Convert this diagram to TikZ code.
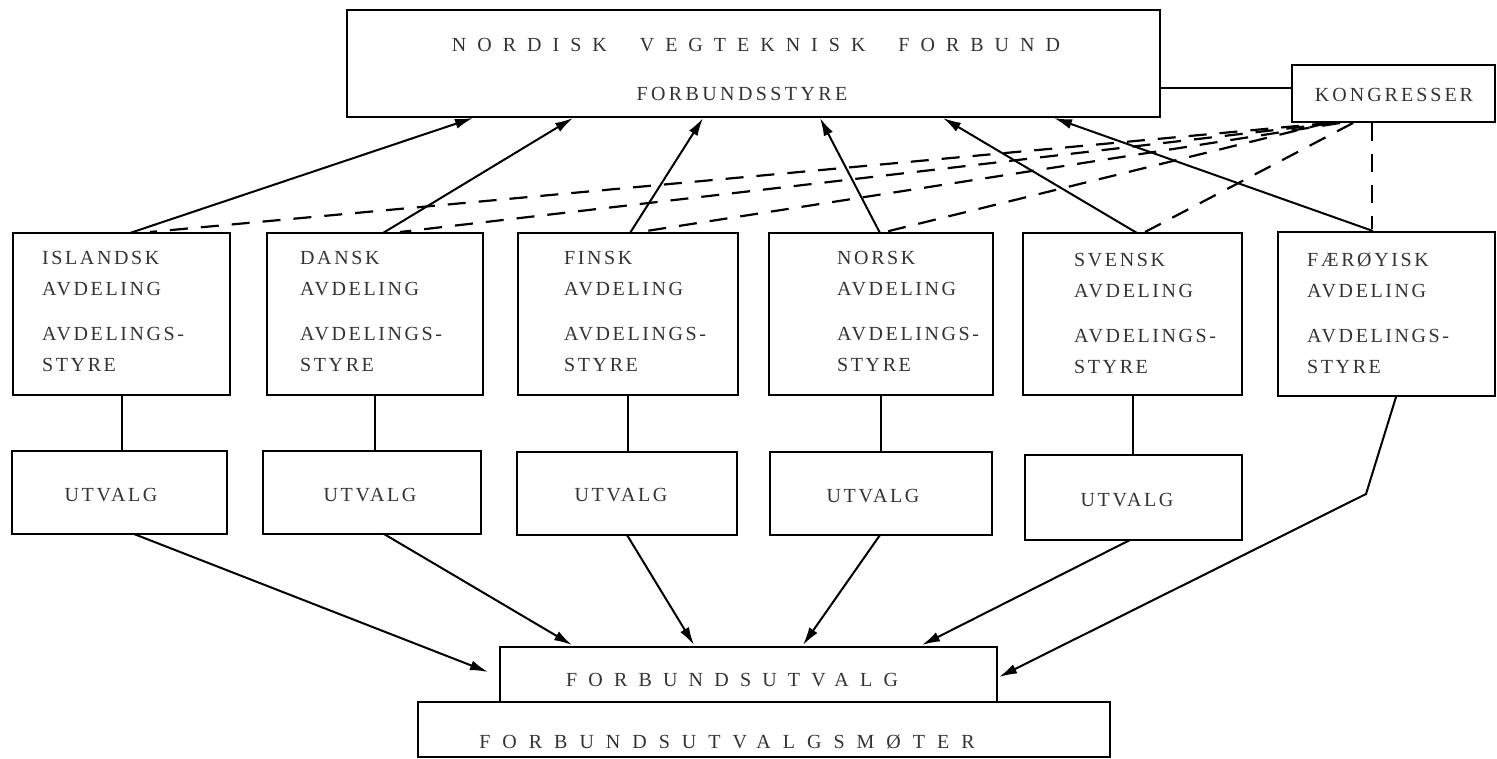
\documentclass[tikz,border=0pt]{standalone}
\usepackage{fontspec}
\setmainfont{Liberation Serif}
\usetikzlibrary{arrows.meta}
\newfontfamily\lsA[LetterSpace=13]{Liberation Serif}
\newfontfamily\lsT[LetterSpace=55]{Liberation Serif}
\newfontfamily\lsB[LetterSpace=56]{Liberation Serif}
\newfontfamily\lsM[LetterSpace=60]{Liberation Serif}
\newfontfamily\lsK[LetterSpace=15]{Liberation Serif}
\newfontfamily\lsS[LetterSpace=17]{Liberation Serif}
\tikzset{
  box/.style={draw=black, line width=2.5pt, inner sep=0pt},
  lbl/.style={inner sep=0pt, text=black!80},
  avd/.style={lbl, anchor=north west, align=left, font=\lsA\fontsize{20}{31}\selectfont},
  utv/.style={lbl, font=\lsA\fontsize{20}{24}\selectfont},
  conn/.style={line width=2pt, -{Latex[length=18pt,width=10pt]}},
  plain/.style={line width=2pt},
  dsh/.style={line width=2.2pt, dash pattern=on 18pt off 13pt},
}
\begin{document}
\begin{tikzpicture}[x=1pt, y=-1pt]
\useasboundingbox (0,0) rectangle (1497,759);
% main boxes
\node[box, minimum width=813pt, minimum height=107pt] (top) at (753.5,63.5) {};
\node[box, minimum width=203pt, minimum height=57pt] (kon) at (1393.5,93.5) {};
\node[lbl, font=\lsT\fontsize{20}{24}\selectfont] (ttl) at (756,45) {NORDISK\hspace{33pt}VEGTEKNISK\hspace{33pt}FORBUND};
\node[lbl, font=\lsS\fontsize{20}{24}\selectfont] (fst) at (742,94) {FORBUNDSSTYRE};
\node[lbl, font=\lsK\fontsize{20}{24}\selectfont] (kont) at (1394,95) {KONGRESSER};
% avdelinger
\node[box, minimum width=217pt, minimum height=162pt] (isl) at (121.5,314) {};
\node[box, minimum width=216pt, minimum height=162pt] (dan) at (375,314) {};
\node[box, minimum width=220pt, minimum height=162pt] (fin) at (628,314) {};
\node[box, minimum width=224pt, minimum height=162pt] (nor) at (881,314) {};
\node[box, minimum width=219pt, minimum height=162pt] (sve) at (1132.5,314) {};
\node[box, minimum width=217pt, minimum height=164pt] (far) at (1386.5,314) {};
\node[avd] (islt) at (42,251) {ISLANDSK\\AVDELING\\[14pt]AVDELINGS-\\STYRE};
\node[avd] (dant) at (300,251) {DANSK\\AVDELING\\[14pt]AVDELINGS-\\STYRE};
\node[avd] (fint) at (564,251) {FINSK\\AVDELING\\[14pt]AVDELINGS-\\STYRE};
\node[avd] (nort) at (837,251) {NORSK\\AVDELING\\[14pt]AVDELINGS-\\STYRE};
\node[avd] (svet) at (1074,253) {SVENSK\\AVDELING\\[14pt]AVDELINGS-\\STYRE};
\node[avd] (fart) at (1307,253) {FÆRØYISK\\AVDELING\\[14pt]AVDELINGS-\\STYRE};
% utvalg
\node[box, minimum width=215pt, minimum height=83pt] (u1) at (119.5,492.5) {};
\node[box, minimum width=218pt, minimum height=83pt] (u2) at (372,492.5) {};
\node[box, minimum width=220pt, minimum height=83pt] (u3) at (627,493.5) {};
\node[box, minimum width=222pt, minimum height=83pt] (u4) at (881,493.5) {};
\node[box, minimum width=217pt, minimum height=85pt] (u5) at (1133.5,497.5) {};
\node[utv] (u1t) at (111,495) {UTVALG};
\node[utv] (u2t) at (370,495) {UTVALG};
\node[utv] (u3t) at (621,495) {UTVALG};
\node[utv] (u4t) at (873,496) {UTVALG};
\node[utv] (u5t) at (1127,500) {UTVALG};
% bottom boxes
\node[box, minimum width=497pt, minimum height=55pt] (fu) at (748.5,674.5) {};
\node[box, minimum width=692pt, minimum height=55pt] (fm) at (764,729.5) {};
\node[lbl, font=\lsB\fontsize{20}{24}\selectfont] (fut) at (732,680) {FORBUNDSUTVALG};
\node[lbl, font=\lsM\fontsize{20}{24}\selectfont] (fmt) at (727,742) {FORBUNDSUTVALGSMØTER};
% coordinates
\coordinate (tk1) at (1160,88); \coordinate (tk2) at (1292,88);
\coordinate (a1) at (130,233);  \coordinate (b1) at (473,118);
\coordinate (a2) at (383,233);  \coordinate (b2) at (573,118);
\coordinate (a3) at (630,233);  \coordinate (b3) at (703,118);
\coordinate (a4) at (880,233);  \coordinate (b4) at (820,118);
\coordinate (a5) at (1137,233); \coordinate (b5) at (943,118);
\coordinate (a6) at (1373,231); \coordinate (b6) at (1054,118);
\coordinate (d1) at (150,232);  \coordinate (k1) at (1330,123);
\coordinate (d2) at (400,232);  \coordinate (k2) at (1335,123);
\coordinate (d3) at (640,232);  \coordinate (k3) at (1340,123);
\coordinate (d4) at (885,232);  \coordinate (k4) at (1327,123);
\coordinate (d5) at (1145,232); \coordinate (k5) at (1353,123);
\coordinate (d6) at (1372,229); \coordinate (k6) at (1372,123);
\coordinate (s1) at (134,534);  \coordinate (e1) at (488,672);
\coordinate (s2) at (384,534);  \coordinate (e2) at (572,645);
\coordinate (s3) at (627,535);  \coordinate (e3) at (694,645);
\coordinate (s4) at (880,535);  \coordinate (e4) at (803,645);
\coordinate (s5) at (1130,540); \coordinate (e5) at (922,645);
\coordinate (f1) at (1396,397); \coordinate (f2) at (1366,494); \coordinate (e6) at (999,677);
% connectors
\draw[plain] (tk1) -- (tk2);
\foreach \i in {1,...,6} { \draw[conn] (a\i) -- (b\i); }
\foreach \i in {1,...,6} { \draw[dsh] (k\i) -- (d\i); }
\draw[plain] (isl.south) -- (isl.south |- u1.north);
\draw[plain] (dan.south) -- (dan.south |- u2.north);
\draw[plain] (fin.south) -- (fin.south |- u3.north);
\draw[plain] (nor.south) -- (nor.south |- u4.north);
\draw[plain] (sve.south) -- (sve.south |- u5.north);
\foreach \i in {1,...,5} { \draw[conn] (s\i) -- (e\i); }
\draw[conn] (f1) -- (f2) -- (e6);
\end{tikzpicture}
\end{document}
